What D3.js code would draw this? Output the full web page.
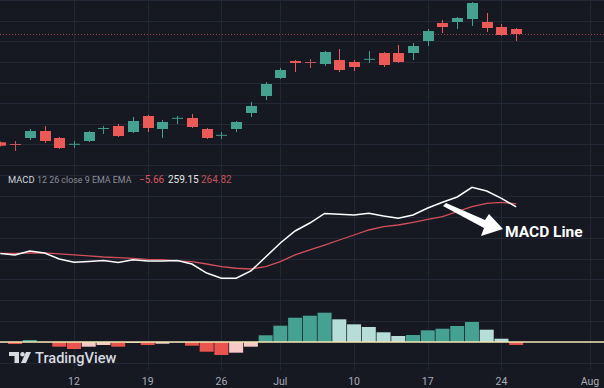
<!DOCTYPE html>
<html>
<head>
<meta charset="utf-8">
<script src="https://cdn.jsdelivr.net/npm/d3@7"></script>
<style>
  html, body { margin: 0; padding: 0; background: #161822; }
  svg { display: block; }
  text { font-family: Roboto, "Noto Sans", sans-serif; }
</style>
</head>
<body>
<svg id="chart" width="604" height="388"></svg>
<script>
// candles (trading days), index = position on the time axis
const opens  = [251.0, 250.18, 253.09, 256.48, 253.09, 250.04, 251.64, 257.65, 258.91, 256.0, 263.76, 257.45, 262.64, 262.79, 257.45, 254.4, 257.45, 265.21, 273.45, 282.18, 290.42, 289.93, 288.96, 290.9, 289.93, 291.24, 294.3, 294.3, 294.3, 300.12, 308.84, 309.33, 310.78, 309.33, 306.9, 305.93];
const highs  = [251.4, 251.64, 257.45, 258.91, 253.57, 251.64, 256.48, 258.91, 259.88, 263.27, 264.24, 261.82, 263.76, 264.72, 257.94, 256.0, 261.33, 270.54, 280.24, 287.03, 290.9, 291.39, 295.27, 296.24, 290.9, 295.27, 294.78, 298.18, 299.15, 305.93, 310.3, 311.75, 319.02, 313.69, 308.36, 306.42];
const lows   = [249.0, 246.79, 252.12, 250.67, 247.76, 248.24, 251.15, 255.03, 253.57, 255.51, 256.0, 253.09, 259.88, 257.94, 252.61, 252.61, 256.0, 263.27, 271.51, 281.69, 285.09, 287.03, 288.0, 285.09, 285.57, 289.45, 287.51, 289.45, 290.9, 297.69, 304.0, 305.93, 307.39, 304.48, 302.54, 300.12];
const closes = [249.36, 249.89, 256.48, 251.64, 248.24, 250.28, 256.0, 257.94, 254.06, 261.33, 257.94, 260.85, 262.88, 258.42, 253.09, 254.64, 260.85, 268.6, 279.27, 286.06, 289.45, 289.64, 294.78, 286.06, 287.51, 291.48, 288.48, 289.93, 297.69, 304.96, 306.9, 311.27, 318.54, 306.42, 303.03, 303.51];

// MACD pane
const macdLine   = [169.7, 166.9, 174.5, 170.7, 159.2, 152.9, 154.4, 156.3, 152.5, 157.9, 155.4, 155.4, 156.3, 149.6, 132.3, 122.2, 122.2, 136.2, 163.0, 189.9, 212.9, 228.2, 246.5, 244.9, 243.6, 246.8, 241.7, 237.3, 243.6, 257.0, 267.9, 278.1, 296.7, 289.6, 275.6, 259.15];
const signalLine = [170.1, 170.1, 170.7, 171.1, 169.2, 166.9, 165.0, 163.0, 161.7, 160.5, 158.6, 157.9, 155.4, 154.0, 149.6, 144.4, 141.4, 140.0, 144.4, 154.0, 166.9, 176.5, 186.0, 195.6, 205.2, 214.8, 221.1, 224.4, 229.6, 235.3, 240.3, 249.9, 259.5, 266.0, 267.9, 264.82];
const histogram  = [-0.4, -3.8, 3.8, -0.5, -9.0, -13.4, -9.0, -5.8, -9.0, -1.9, -5.8, -3.3, -0.5, -7.1, -18.6, -24.9, -20.5, -9.0, 12.9, 31.3, 46.6, 50.4, 56.2, 43.5, 33.9, 28.8, 18.6, 11.5, 13.4, 22.4, 25.5, 30.7, 38.4, 23.6, 6.3, -5.66];

// time axis ticks
const tickIndex  = [5, 10, 15, 19, 24, 29, 34, 40];
const tickLabels = ["12", "19", "26", "Jul", "10", "17", "24", "Aug"];

// legend parts
const legendTexts  = ["MACD", "12 26 close 9 EMA EMA", "−5.66", "259.15", "264.82"];
const legendColors = ["#d1d4dc", "#8b8e98", "#d9575e", "#e6e6e6", "#c2545c"];

const W = 604, H = 388;
const GREEN = "#45a290", RED = "#ec5a57";

const svg = d3.select("#chart");
svg.append("rect").attr("width", W).attr("height", H).attr("fill", "#161822");

const x = d3.scaleLinear().domain([0, 40]).range([0.3, 589.9]);
const yPrice = d3.scaleLinear().domain([240, 320]).range([165, 0]);
const yMacd = d3.scaleLinear().domain([0, 280]).range([342, 196]);

// grid
const grid = svg.append("g").attr("stroke", "#232634").attr("stroke-width", 1);
grid.selectAll(".hp").data(d3.range(240, 321, 10)).join("line")
    .attr("x1", 0).attr("x2", W)
    .attr("y1", d => Math.round(yPrice(d)) + 0.5).attr("y2", d => Math.round(yPrice(d)) + 0.5);
grid.selectAll(".hm").data(d3.range(-40, 321, 40)).join("line")
    .attr("x1", 0).attr("x2", W)
    .attr("y1", d => Math.round(yMacd(d)) + 0.5).attr("y2", d => Math.round(yMacd(d)) + 0.5);
grid.selectAll(".v").data(tickIndex).join("line")
    .attr("x1", d => Math.round(x(d)) + 0.5).attr("x2", d => Math.round(x(d)) + 0.5)
    .attr("y1", 0).attr("y2", 370);

// last price line
const lastClose = closes[closes.length - 1];
svg.append("line")
    .attr("x1", 0).attr("x2", W)
    .attr("y1", yPrice(lastClose) + 0.5).attr("y2", yPrice(lastClose) + 0.5)
    .attr("stroke", "#9a3e45").attr("stroke-width", 1).attr("stroke-dasharray", "1,2");

// candles
const candles = opens.map((o, i) => ({ i, o, h: highs[i], l: lows[i], c: closes[i] }));
const candleColor = (d, i) => {
    if (Math.abs(d.c - d.o) < 0.7) return (i === 1 || i === 21) ? "#c8575c" : "#3f9a89";
    return d.c >= d.o ? GREEN : RED;
};
const cg = svg.append("g");
cg.selectAll(".wick").data(candles).join("line")
    .attr("x1", d => Math.round(x(d.i)) + 0.5).attr("x2", d => Math.round(x(d.i)) + 0.5)
    .attr("y1", d => yPrice(d.h)).attr("y2", d => yPrice(d.l))
    .attr("stroke", candleColor).attr("stroke-width", 1);
cg.selectAll(".body").data(candles).join("rect")
    .attr("x", d => Math.round(x(d.i)) - 5)
    .attr("width", 11)
    .attr("y", d => yPrice(Math.max(d.o, d.c)))
    .attr("height", d => Math.max(1, Math.abs(yPrice(d.o) - yPrice(d.c))))
    .attr("fill", candleColor);

// histogram
const histColor = (v, i) => {
    const prev = i > 0 ? histogram[i - 1] : v;
    if (v >= 0) return v >= prev ? "#45a191" : "#b6ddd7";
    return v < prev ? "#e9544f" : "#f6c9c9";
};
svg.append("g").selectAll("rect").data(histogram).join("rect")
    .attr("x", (d, i) => x(i) - 7)
    .attr("width", 14)
    .attr("y", d => yMacd(Math.max(0, d)))
    .attr("height", d => Math.abs(yMacd(d) - yMacd(0)))
    .attr("fill", histColor);

// zero line
svg.append("line")
    .attr("x1", 0).attr("x2", W)
    .attr("y1", yMacd(0)).attr("y2", yMacd(0))
    .attr("stroke", "#f1e7b3").attr("stroke-width", 1.3);

// MACD and signal lines
const line = d3.line().x((d, i) => x(i)).y(d => yMacd(d));
svg.append("path").datum(signalLine).attr("d", line)
    .attr("fill", "none").attr("stroke", "#d2505a").attr("stroke-width", 1.3);
svg.append("path").datum(macdLine).attr("d", line)
    .attr("fill", "none").attr("stroke", "#ffffff").attr("stroke-width", 1.5);

// legend
const legendX = [8, 37, 139, 168, 201];
const legendFont = [9.4, 8.9, 10, 10, 10];
svg.append("g").selectAll("text").data(legendTexts).join("text")
    .attr("x", (d, i) => legendX[i]).attr("y", 183)
    .attr("font-size", (d, i) => legendFont[i])
    .attr("fill", (d, i) => legendColors[i])
    .text(d => d);

// annotation arrow
svg.append("path")
    .attr("d", "M443,206 L446,203 L485,220 L489,214 L503,229 L481,236 L484,228 Z")
    .attr("fill", "#ffffff");
svg.append("text").attr("x", 505).attr("y", 237)
    .attr("font-size", 15.5).attr("font-weight", 700).attr("fill", "#ffffff")
    .text("MACD Line");

// TradingView watermark
const logo = svg.append("g").attr("fill", "#d8dae0");
logo.append("path").attr("d", "M9,352 H19 V363 H14.5 V356 H9 Z");
logo.append("circle").attr("cx", 22.5).attr("cy", 354.3).attr("r", 2.2);
logo.append("path").attr("d", "M26,352 H31 L26,363 H21 Z");
svg.append("text").attr("x", 35).attr("y", 363)
    .attr("font-size", 14.6).attr("font-weight", 500).attr("fill", "#d8dae0")
    .text("TradingView");

// time axis labels
svg.append("g").selectAll("text").data(tickIndex).join("text")
    .attr("x", d => x(d)).attr("y", 385)
    .attr("text-anchor", "middle").attr("font-size", 10.5).attr("fill", "#a9acb5")
    .text((d, i) => tickLabels[i]);
</script>
</body>
</html>
